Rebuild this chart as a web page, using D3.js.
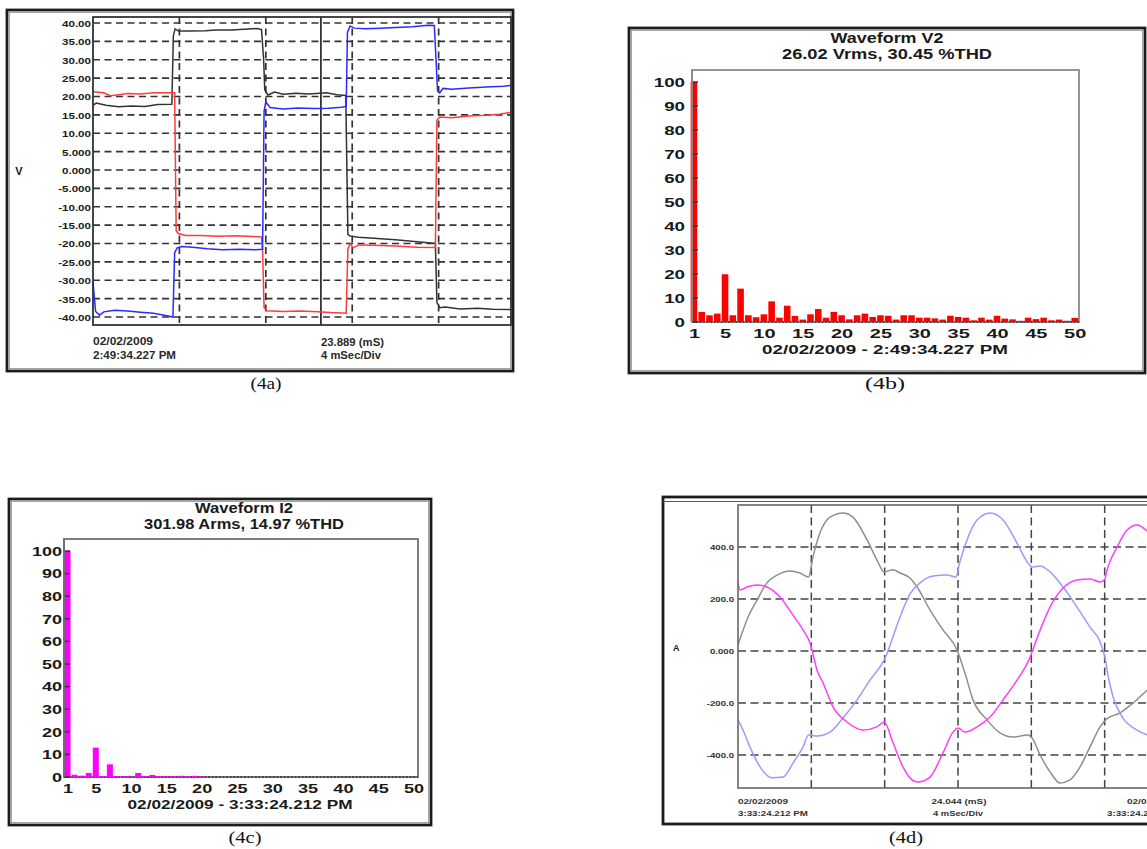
<!DOCTYPE html>
<html><head><meta charset="utf-8">
<script src="https://cdn.jsdelivr.net/npm/d3@7"></script>
<style>body{margin:0;background:#fff}svg{display:block}</style>
</head><body><svg id="c" width="1147" height="849" font-family='"Liberation Sans",Arial,sans-serif'></svg>
<script>
// ---------------- DATA ----------------
// (4a) voltage waveforms: [time ms, volts]
const ticksA = [40,35,30,25,20,15,10,5,0,-5,-10,-15,-20,-25,-30,-35,-40];
const tickLabelsA = ["40.00","35.00","30.00","25.00","20.00","15.00","10.00","5.000","0.000","-5.000","-10.00","-15.00","-20.00","-25.00","-30.00","-35.00","-40.00"];
const gridTimesA = [4,8,12,16];
const cursorTimeA = 10.55;
const redA = [[0,21.3],[0.5,21.0],[0.8,20.2],[1.2,20.5],[1.6,20.8],[2.2,20.7],[2.8,21.0],[3.4,21.0],[3.78,21.0],[3.85,-16.5],[3.95,-17.3],[4.3,-17.8],[5.0,-17.8],[5.8,-18.0],[6.6,-17.9],[7.4,-18.1],[7.8,-18.2],[7.85,-22],[7.92,-37.5],[8.05,-38.3],[8.8,-38.5],[9.6,-38.4],[10.4,-38.6],[11.0,-38.8],[11.5,-38.9],[11.72,-39.0],[11.8,-21.5],[11.9,-20.0],[12.05,-21.2],[12.3,-20.4],[13.0,-20.5],[14.0,-20.7],[15.0,-21.0],[15.85,-21.1],[15.92,13.5],[16.05,14.4],[16.6,14.2],[17.4,14.7],[18.2,14.9],[18.8,15.2],[19.35,15.7]];
const blackA = [[0,17.6],[0.15,18.2],[0.6,17.6],[1.2,17.2],[1.8,17.4],[2.4,17.3],[3.0,17.8],[3.65,17.9],[3.72,36.5],[3.8,38.4],[3.95,37.8],[4.5,37.8],[5.2,37.9],[5.7,38.1],[6.4,38.1],[7.0,38.3],[7.6,38.5],[7.8,38.2],[7.9,30],[7.95,21.8],[8.1,20.4],[8.4,21.2],[8.8,20.6],[9.4,20.9],[10.0,20.7],[10.8,21.0],[11.3,20.5],[11.7,20.3],[11.8,-17.5],[11.9,-18.0],[12.3,-18.3],[13.0,-18.6],[14.0,-19.0],[15.0,-19.5],[15.85,-20.0],[15.92,-36.0],[16.05,-37.5],[16.3,-37.3],[17.0,-37.8],[17.8,-37.6],[18.5,-37.9],[19.35,-38.0]];
const blueA = [[0,-30.5],[0.12,-38.5],[0.3,-39.5],[0.5,-38.6],[1.0,-38.2],[1.6,-38.4],[2.2,-38.7],[2.8,-39.0],[3.3,-39.5],[3.7,-40.0],[3.78,-22.5],[3.9,-21.2],[4.1,-20.8],[4.6,-21.0],[5.3,-21.4],[6.0,-21.7],[6.8,-21.6],[7.5,-21.7],[7.85,-21.6],[7.92,16],[8.0,18.5],[8.2,17.0],[8.8,16.6],[9.5,16.9],[10.2,16.7],[10.9,16.8],[11.5,17.1],[11.72,17.3],[11.78,37.5],[11.9,39.2],[12.1,38.6],[12.6,38.4],[13.3,38.6],[14.0,38.8],[14.8,39.0],[15.5,39.4],[15.8,39.3],[15.88,30],[15.95,21.5],[16.05,21.0],[16.2,22.2],[16.6,22.0],[17.4,22.3],[18.2,22.6],[19.0,22.8],[19.35,23.0]];

// (4b),(4c) harmonic spectra
const harmonicOrders = [1,2,3,4,5,6,7,8,9,10,11,12,13,14,15,16,17,18,19,20,21,22,23,24,25,26,27,28,29,30,31,32,33,34,35,36,37,38,39,40,41,42,43,44,45,46,47,48,49,50];
const harmTicks = [1,5,10,15,20,25,30,35,40,45,50];
const pctTicks = [0,10,20,30,40,50,60,70,80,90,100];
const harmV2 = [100,4.2,2.8,3.5,19.9,2.8,13.9,2.8,2.0,3.2,8.6,1.8,6.8,2.5,1.0,3.2,5.4,1.8,4.2,2.8,1.1,2.8,3.5,2.1,2.8,2.6,1.0,2.8,2.8,1.8,1.8,1.5,1.0,2.6,2.1,1.8,0.7,1.8,1.0,2.6,1.4,1.1,0.5,1.8,1.2,1.8,0.7,1.0,0.5,1.7];
const harmI2 = [100,1.0,0.6,1.8,13,0.4,5.6,0.4,0.3,0.3,1.8,0.3,0.9,0.4,0.3,0.3,0.5,0.3,0.5,0.2,0,0,0,0,0,0,0,0,0,0,0,0,0,0,0,0,0,0,0,0,0,0,0,0,0,0,0,0,0,0];

// (4d) current waveforms: [time ms, amps]
const ticksD = [400,200,0,-200,-400];
const tickLabelsD = ["400.0","200.0","0.000","-200.0","-400.0"];
const gridTimesD = [4,8,12,16,20];
const greyD = [[0,23],[0.22,69],[0.55,131],[1.04,196],[1.58,262],[2.13,292],[2.84,308],[3.38,300],[3.85,285],[4.09,362],[4.47,454],[5.02,515],[5.73,531],[6.27,515],[7.04,427],[7.58,350],[7.97,304],[8.46,312],[8.84,300],[9.38,281],[9.77,246],[10.47,158],[11.18,81],[11.95,4],[12.4,-90],[12.82,-188],[13.58,-265],[14.29,-315],[15.0,-331],[15.82,-323],[16.04,-335],[16.48,-400],[17.02,-465],[17.57,-508],[18.11,-496],[18.66,-446],[19.2,-369],[19.75,-292],[20.1,-262],[20.84,-238],[21.55,-200],[22.4,-145]];
const blueD = [[0,-265],[0.27,-304],[0.65,-369],[1.2,-446],[1.85,-488],[2.46,-485],[3.0,-431],[3.55,-369],[3.85,-323],[4.31,-327],[5.02,-312],[5.73,-258],[6.49,-188],[7.2,-112],[7.97,-35],[8.84,131],[9.38,220],[9.93,262],[10.64,288],[11.4,292],[11.89,285],[12.1,342],[12.49,427],[13.04,504],[13.75,531],[14.46,504],[15.22,415],[15.82,338],[16.04,323],[16.48,327],[17.02,304],[17.73,246],[18.49,169],[19.2,92],[19.75,35],[20.02,-27],[20.2,-100],[20.46,-177],[21.0,-258],[21.77,-304],[22.4,-325]];
const magentaD = [[0,265],[0.11,235],[0.49,246],[1.04,254],[1.58,246],[2.29,208],[3.0,138],[3.55,81],[3.93,31],[4.31,-73],[4.64,-123],[5.18,-215],[5.95,-273],[6.82,-304],[7.58,-292],[7.97,-273],[8.46,-354],[9.0,-446],[9.38,-488],[9.82,-504],[10.47,-485],[11.18,-392],[11.73,-312],[12.0,-296],[12.38,-312],[13.04,-292],[13.75,-254],[14.46,-188],[15.22,-112],[15.82,-42],[16.48,81],[17.02,169],[17.73,242],[18.49,273],[19.2,277],[19.75,265],[20.0,275],[20.13,312],[20.68,400],[21.22,465],[21.77,485],[22.4,455]];

// ---------------- HELPERS ----------------
const SANS = '"Liberation Sans",Arial,sans-serif';
const SERIF = '"Liberation Serif","Times New Roman",serif';
const svg = d3.select('#c');
svg.append('rect').attr('width',1147).attr('height',849).attr('fill','#fff');
function fit(sel,f){sel.each(function(){const L=this.getComputedTextLength();if(L>0){this.setAttribute('textLength',(L*f).toFixed(2));this.setAttribute('lengthAdjust','spacingAndGlyphs');}});}
function label(g,x,y,txt,o){
  const t=g.append('text').attr('x',x).attr('y',y).text(txt)
    .attr('font-family',o.family||SANS)
    .attr('font-size',o.size).attr('font-weight',o.weight||'bold')
    .attr('text-anchor',o.anchor||'start').attr('fill',o.fill||'#1a1a1a');
  if(o.w) t.attr('textLength',o.w).attr('lengthAdjust','spacingAndGlyphs');
  return t;
}
function frame(g,x,y,w,h){
  g.append('rect').attr('x',x).attr('y',y).attr('width',w).attr('height',h).attr('fill','none').attr('stroke','#1c1c1c').attr('stroke-width',2.8);
  g.append('rect').attr('x',x+2.4).attr('y',y+2.4).attr('width',w-4.8).attr('height',h-4.8).attr('fill','none').attr('stroke','#9a9a9a').attr('stroke-width',1);
}
function styleAxisText(ax,size,f,fill){
  ax.select('.domain').remove();
  ax.attr('font-family',SANS).attr('font-size',size);
  ax.selectAll('text').attr('font-size',size).attr('font-weight','bold').attr('fill',fill||'#1a1a1a');
  fit(ax.selectAll('text'),f);
}
const caption = (g,x,y,txt,w)=>label(g,x,y,txt,{size:16,weight:'normal',anchor:'middle',family:SERIF,w:w,fill:'#111'});

// ---------------- PANEL 4a ----------------
(function(){
  const g = svg.append('g');
  frame(g,7,10,506,361);
  const L=93,R=511,T=17,B=325;
  const x = d3.scaleLinear().domain([0,19.35]).range([L,R]);
  const y = d3.scaleLinear().domain([-42.18,41.63]).range([B,T]);
  g.selectAll('line.hg').data(ticksA).join('line').attr('class','hg')
    .attr('x1',L).attr('x2',R).attr('y1',d=>y(d)).attr('y2',d=>y(d))
    .attr('stroke','#333').attr('stroke-width',1.7).attr('stroke-dasharray','7,4.5');
  g.selectAll('line.vg').data(gridTimesA).join('line').attr('class','vg')
    .attr('x1',d=>x(d)).attr('x2',d=>x(d)).attr('y1',T).attr('y2',B)
    .attr('stroke','#333').attr('stroke-width',1.7).attr('stroke-dasharray','7,4.5');
  g.append('line').attr('x1',x(cursorTimeA)).attr('x2',x(cursorTimeA)).attr('y1',T).attr('y2',B)
    .attr('stroke','#333').attr('stroke-width',1.8);
  const line = d3.line().x(d=>x(d[0])).y(d=>y(d[1]));
  [[blackA,'#333333'],[redA,'#ff3a3a'],[blueA,'#2b2bff']].forEach(([d,c])=>{
    g.append('path').datum(d).attr('d',line).attr('fill','none').attr('stroke',c).attr('stroke-width',1.5);
  });
  g.append('rect').attr('x',L).attr('y',T).attr('width',R-L).attr('height',B-T).attr('fill','none').attr('stroke','#333').attr('stroke-width',1.8);
  const ax = g.append('g').attr('transform',`translate(${L-2},0)`)
    .call(d3.axisLeft(y).tickValues(ticksA).tickFormat((d,i)=>tickLabelsA[i]).tickSize(0).tickPadding(0));
  styleAxisText(ax,9.5,1.22);
  ax.selectAll('text').attr('dy','0.36em');
  label(g,19,175,'V',{size:11,anchor:'middle'});
  label(g,93,345,'02/02/2009',{size:11,weight:'bold',w:60,fill:'#2a2a2a'});
  label(g,93,359,'2:49:34.227 PM',{size:11,weight:'bold',w:83,fill:'#2a2a2a'});
  label(g,321,346,'23.889 (mS)',{size:11,weight:'bold',w:63,fill:'#2a2a2a'});
  label(g,321,359,'4 mSec/Div',{size:11,weight:'bold',w:60,fill:'#2a2a2a'});
  caption(g,266,389,'(4a)',31);
})();

// ---------------- SPECTRUM PANELS ----------------
function spectrum(o){
  const g = svg.append('g');
  frame(g,o.fx,o.fy,o.fw,o.fh);
  const x = d3.scaleLinear().domain(o.xdom).range([o.L,o.R]);
  const y = d3.scaleLinear().domain([0,100]).range([o.B,o.y100]);
  g.append('rect').attr('x',o.L).attr('y',o.T).attr('width',o.R-o.L).attr('height',o.B-o.T)
    .attr('fill','#fff').attr('stroke',o.border).attr('stroke-width',1.8);
  g.append('line').attr('x1',o.L).attr('x2',o.R).attr('y1',o.B).attr('y2',o.B)
    .attr('stroke','#333').attr('stroke-width',1.6).attr('stroke-dasharray','2,1.6');
  g.selectAll('rect.bar').data(o.values).join('rect').attr('class','bar')
    .attr('x',(d,i)=>x(harmonicOrders[i])-o.bw/2).attr('width',o.bw)
    .attr('y',d=>y(d)).attr('height',d=>o.B-y(d)).attr('fill',o.color);
  g.selectAll('line.yt').data(pctTicks).join('line').attr('class','yt')
    .attr('x1',o.L).attr('x2',o.L+6).attr('y1',d=>y(d)).attr('y2',d=>y(d))
    .attr('stroke','#333').attr('stroke-width',1.5);
  g.append('line').attr('x1',o.L).attr('x2',o.L).attr('y1',o.T).attr('y2',o.B).attr('stroke',o.border).attr('stroke-width',1.8);
  const ay = g.append('g').attr('transform',`translate(${o.L-o.ypad},0)`)
    .call(d3.axisLeft(y).tickValues(pctTicks).tickSize(0).tickPadding(0));
  styleAxisText(ay,o.ysize,o.yf);
  ay.selectAll('text').attr('dy','0.36em');
  const axx = g.append('g').attr('transform',`translate(0,${o.xbase})`)
    .call(d3.axisBottom(x).tickValues(harmTicks).tickSize(0).tickPadding(0));
  styleAxisText(axx,o.xsize,o.xf);
  axx.selectAll('text').attr('y',0).attr('dy',0);
  label(g,o.cx,o.t1y,o.title,{size:14.5,anchor:'middle',w:o.t1w});
  label(g,o.cx,o.t2y,o.sub,{size:14,anchor:'middle',w:o.t2w});
  label(g,o.dx,o.dy,o.date,{size:13,anchor:'middle',w:o.dw});
  caption(g,o.capx,o.capy,o.cap,o.capw);
}
spectrum({fx:629,fy:28,fw:516,fh:345,L:692,R:1079,T:70,B:322,y100:82,xdom:[0.75,50.55],
  values:harmV2,color:'#ff0000',bw:6.6,border:'#8a8a8a',ypad:7,ysize:12.5,yf:1.5,xbase:337.5,xsize:12.5,xf:1.6,
  cx:887,t1y:43.3,title:'Waveform V2',t1w:113,t2y:59.3,sub:'26.02 Vrms, 30.45 %THD',t2w:210,
  dx:885,dy:354,date:'02/02/2009  - 2:49:34.227 PM',dw:246,capx:885,capy:389,cap:'(4b)',capw:40});
spectrum({fx:9,fy:499,fw:422,fh:326,L:64,R:418,T:539,B:777,y100:551,xdom:[0.5,50.64],
  values:harmI2,color:'#ff00ff',bw:6,border:'#707070',ypad:2,ysize:12,yf:1.5,xbase:793,xsize:12.5,xf:1.45,
  cx:244,t1y:512.7,title:'Waveform I2',t1w:98,t2y:529.3,sub:'301.98 Arms, 14.97 %THD',t2w:200,
  dx:240,dy:809,date:'02/02/2009  - 3:33:24.212 PM',dw:225,capx:245,capy:843,cap:'(4c)',capw:33});

// ---------------- PANEL 4d ----------------
(function(){
  const g = svg.append('g');
  g.append('rect').attr('x',663).attr('y',497).attr('width',600).attr('height',327).attr('fill','none').attr('stroke','#1c1c1c').attr('stroke-width',2.8);
  g.append('line').attr('x1',663).attr('x2',1147).attr('y1',501.5).attr('y2',501.5).attr('stroke','#555').attr('stroke-width',1.2);
  const L=738,R=1178,T=505,B=788;
  const x = d3.scaleLinear().domain([0,24]).range([L,R]);
  const y = d3.scaleLinear().domain([-527,561.5]).range([B,T]);
  g.selectAll('line.hg').data(ticksD).join('line').attr('class','hg')
    .attr('x1',L).attr('x2',R).attr('y1',d=>y(d)).attr('y2',d=>y(d))
    .attr('stroke','#444').attr('stroke-width',1.5).attr('stroke-dasharray','8,4.5');
  g.selectAll('line.vg').data(gridTimesD).join('line').attr('class','vg')
    .attr('x1',d=>x(d)).attr('x2',d=>x(d)).attr('y1',T).attr('y2',B)
    .attr('stroke','#444').attr('stroke-width',1.5).attr('stroke-dasharray','8,4.5');
  const line = d3.line().x(d=>x(d[0])).y(d=>y(d[1])).curve(d3.curveMonotoneX);
  [[greyD,'#8e8e8e'],[blueD,'#9a9aff'],[magentaD,'#ff3cff']].forEach(([d,c])=>{
    g.append('path').datum(d).attr('d',line).attr('fill','none').attr('stroke',c).attr('stroke-width',1.5);
  });
  g.append('rect').attr('x',L).attr('y',T).attr('width',R-L).attr('height',B-T).attr('fill','none').attr('stroke','#666').attr('stroke-width',1.6);
  const ax = g.append('g').attr('transform',`translate(${L-4},0)`)
    .call(d3.axisLeft(y).tickValues(ticksD).tickFormat((d,i)=>tickLabelsD[i]).tickSize(0).tickPadding(0));
  styleAxisText(ax,7.5,1.28,'#333');
  ax.selectAll('text').attr('dy','0.36em');
  label(g,673,651,'A',{size:9});
  label(g,738,804,'02/02/2009',{size:8,w:50,fill:'#333'});
  label(g,738,816,'3:33:24.212 PM',{size:8,w:70,fill:'#333'});
  label(g,959,804,'24.044 (mS)',{size:8,anchor:'middle',w:55,fill:'#333'});
  label(g,958,816,'4 mSec/Div',{size:8,anchor:'middle',w:50,fill:'#333'});
  label(g,1177,804,'02/02/2009',{size:8,anchor:'end',w:50,fill:'#333'});
  label(g,1177,816,'3:33:24.212 PM',{size:8,anchor:'end',w:70,fill:'#333'});
  caption(g,906,843,'(4d)',34);
})();
</script></body></html>
